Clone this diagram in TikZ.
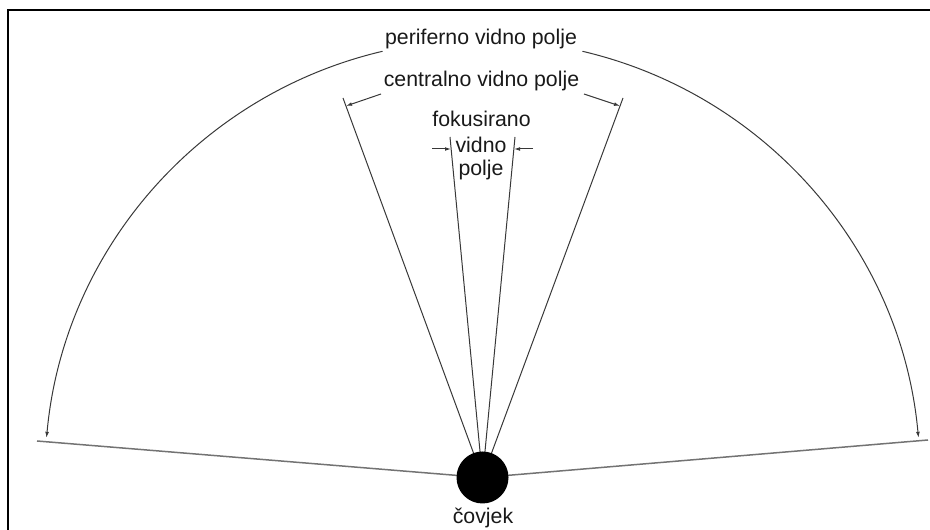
\documentclass[tikz,border=0pt]{standalone}
\usepackage{fontspec}
\setmainfont{Liberation Sans}
\usetikzlibrary{arrows.meta}
\begin{document}
\begin{tikzpicture}[x=1pt,y=1pt,
  lbl/.style={font=\fontsize{21.3}{25}\selectfont, text=black!90, inner sep=0pt, anchor=base},
  ln/.style={draw=black!78, line width=1pt},
  base/.style={draw=black!55, line width=1.5pt},
  dim/.style={ln, -{Latex[length=6pt,width=3.8pt]}},
  frame/.style={draw=black, line width=2pt}
]
\useasboundingbox (0,0) rectangle (930,530);
% frame (top and left only)
\coordinate (f1) at (930,520);
\coordinate (f2) at (8,520);
\coordinate (f3) at (8,0);
\draw[frame] (f1) -- (f2) -- (f3);

% person
\coordinate (C) at (482.5,52.5);

% baseline ends
\coordinate (bl) at (37,89);
\coordinate (br) at (928,90);
\draw[base] (C) -- (bl);
\draw[base] (C) -- (br);

% central rays
\coordinate (cl) at (343,432);
\coordinate (cr) at (623,432);
\draw[ln] (C) -- (cl);
\draw[ln] (C) -- (cr);

% focused rays
\coordinate (fl) at (450,393);
\coordinate (fr) at (515,393);
\draw[ln] (C) -- (fl);
\draw[ln] (C) -- (fr);

% peripheral arc
\draw[dim] ([shift={(103.2:437.8pt)}]C) arc[start angle=103.2, end angle=174.8, radius=437.8pt];
\draw[dim] ([shift={(76.8:437.8pt)}]C) arc[start angle=76.8, end angle=5.2, radius=437.8pt];

% labels
\node[lbl] (per) at (481,485) {periferno vidno polje};
\node[lbl] (cen) at (481.5,443.5) {centralno vidno polje};
\node[lbl] (fok) at (481.5,403) {fokusirano};
\node[lbl] (vid) at (481,377) {vidno};
\node[lbl] (pol) at (481,354) {polje};
\node[lbl] (cov) at (483,6) {čovjek};

% central dimension arrows
\coordinate (cla) at (381,436);
\coordinate (clb) at (346,424);
\coordinate (cra) at (584,436);
\coordinate (crb) at (620,424);
\draw[dim] (cla) -- (clb);
\draw[dim] (cra) -- (crb);

% focused dimension arrows
\coordinate (fla) at (432,381);
\coordinate (flb) at (451,381);
\coordinate (fra) at (533,381);
\coordinate (frb) at (514,381);
\draw[dim] (fla) -- (flb);
\draw[dim] (fra) -- (frb);

% person disc
\node[circle, fill=black, minimum size=52pt, inner sep=0pt] (man) at (C) {};
\end{tikzpicture}
\end{document}
